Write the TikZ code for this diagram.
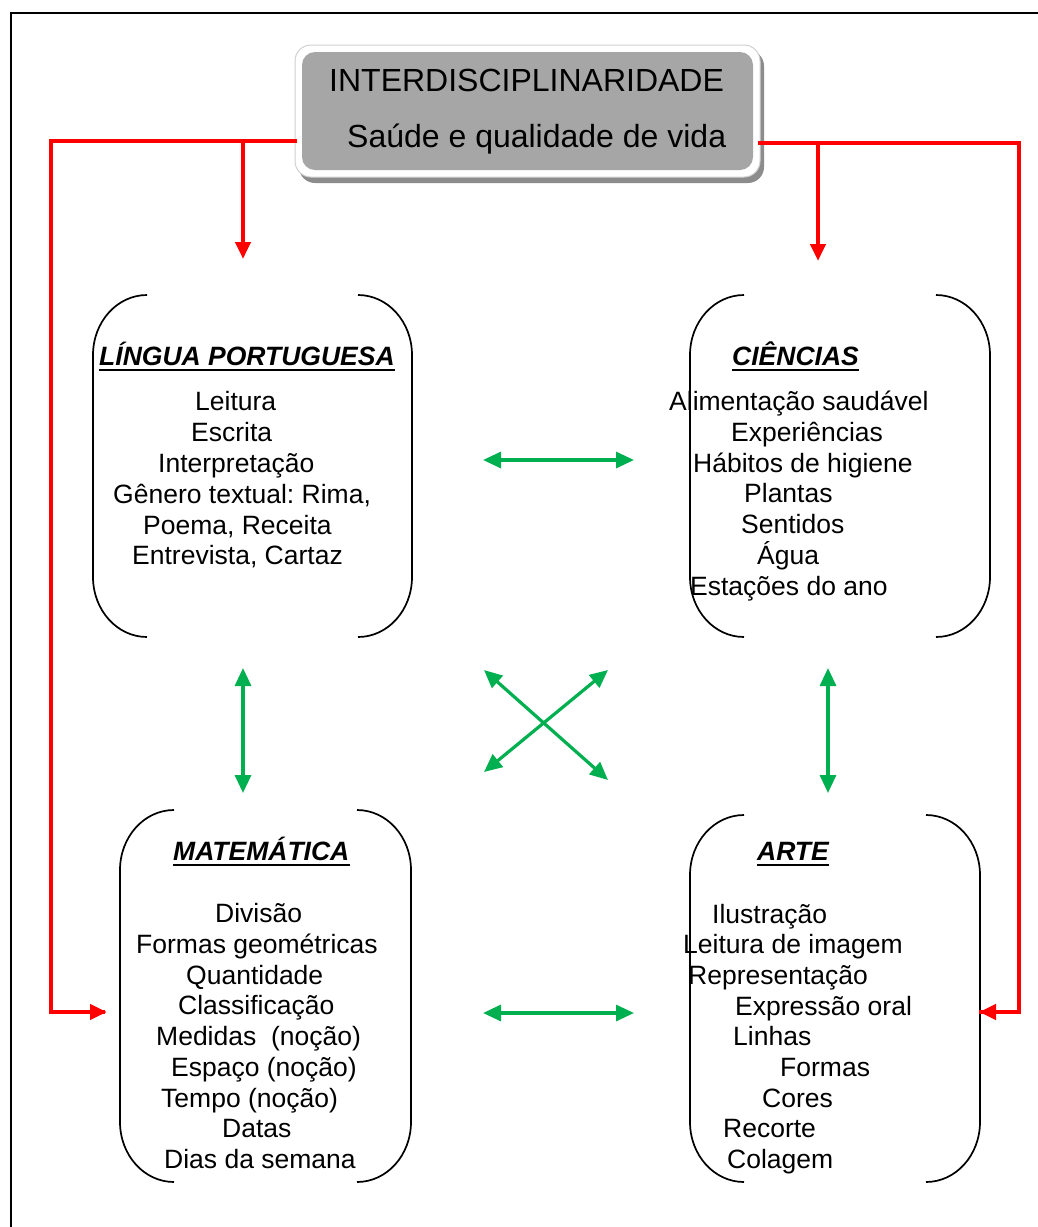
\documentclass[tikz,border=0pt]{standalone}
\usepackage{fontspec}
\setmainfont{Liberation Sans}
\usetikzlibrary{arrows.meta}
\definecolor{hdrgray}{HTML}{A6A6A6}
\definecolor{shgray}{HTML}{8C8C8C}
\definecolor{edgegray}{HTML}{D0D0D0}
\definecolor{arrowred}{HTML}{FF0000}
\definecolor{arrowgreen}{HTML}{00B050}
\tikzset{
  body/.style={anchor=base west,inner sep=0pt,font=\fontsize{26.5}{31}\selectfont},
  ttl/.style={anchor=base west,inner sep=0pt,font=\fontsize{26.5}{31}\selectfont\bfseries\itshape},
  hdrtext/.style={anchor=base west,inner sep=0pt,font=\fontsize{32}{38}\selectfont},
  redarrow/.style={draw=arrowred,line width=4.5pt,-{Triangle[length=17pt,width=15pt]}},
  redline/.style={draw=arrowred,line width=4.5pt},
  greenarrow/.style={draw=arrowgreen,line width=3.2pt,{Triangle[length=18pt,width=16pt]}-{Triangle[length=18pt,width=16pt]}},
  bracket/.style={draw=black,line width=1.7pt},
  uline/.style={draw=black,line width=2.6pt},
  boxarea/.style={draw=none,inner sep=0pt}
}
% bracket pair: #1 L, #2 R, #3 T, #4 B
\newcommand{\bracketpair}[4]{%
  \draw[bracket] ({#1+54},#3) .. controls ({#1+24},#3) and (#1,{#3+27}) .. (#1,{#3+60})
     -- (#1,{#4-60}) .. controls (#1,{#4-27}) and ({#1+24},#4) .. ({#1+54},#4);
  \draw[bracket] ({#2-54},#3) .. controls ({#2-24},#3) and (#2,{#3+27}) .. (#2,{#3+60})
     -- (#2,{#4-60}) .. controls (#2,{#4-27}) and ({#2-24},#4) .. ({#2-54},#4);
}
\begin{document}
\frenchspacing
\begin{tikzpicture}[x=1pt,y=-1pt]
\useasboundingbox (0,0) rectangle (1038,1227);
\fill[white] (0,0) rectangle (1038,1227);
% outer frame
\draw[line width=2pt,black] (11,1227) -- (11,13) -- (1038,13);

% header
\fill[shgray,rounded corners=16pt] (299,50) rectangle (764,183);
\draw[edgegray,fill=white,line width=1pt,rounded corners=16pt] (295,45) rectangle (760,177);
\node[boxarea,fill=hdrgray,rounded corners=13pt,minimum width=451pt,minimum height=118pt] (hdr) at (527.5,111) {};
\node[hdrtext] (hdr1) at (329,91) {INTERDISCIPLINARIDADE};
\node[hdrtext] (hdr2) at (347,147) {Saúde e qualidade de vida};

% boxes (areas)
\node[boxarea,minimum width=319pt,minimum height=342pt] (lp) at (252.5,466) {};
\node[boxarea,minimum width=300pt,minimum height=342pt] (ci) at (840,466) {};
\node[boxarea,minimum width=291pt,minimum height=372pt] (ma) at (265.5,996) {};
\node[boxarea,minimum width=290pt,minimum height=367pt] (ar) at (835,998.5) {};
\bracketpair{93}{412}{295}{637}
\bracketpair{690}{990}{295}{637}
\bracketpair{120}{411}{810}{1182}
\bracketpair{690}{980}{815}{1182}

% LINGUA PORTUGUESA
\node[ttl] (lpT) at (99,365) {LÍNGUA PORTUGUESA};
\draw[uline] ([yshift=-5pt]lpT.base west) -- ([yshift=-5pt]lpT.base east);
\node[body] (lp1) at (195,410) {Leitura};
\node[body] (lp2) at (191,441) {Escrita};
\node[body] (lp3) at (158,472) {Interpretação};
\node[body] (lp4) at (113,503) {Gênero textual: Rima,};
\node[body] (lp5) at (143,534) {Poema, Receita};
\node[body] (lp6) at (132,564) {Entrevista, Cartaz};

% CIENCIAS
\node[ttl] (ciT) at (732,365) {CIÊNCIAS};
\draw[uline] ([yshift=-5pt]ciT.base west) -- ([yshift=-5pt]ciT.base east);
\node[body] (ci1) at (669,410) {Alimentação saudável};
\node[body] (ci2) at (731,441) {Experiências};
\node[body] (ci3) at (693,472) {Hábitos de higiene};
\node[body] (ci4) at (744,502) {Plantas};
\node[body] (ci5) at (741,533) {Sentidos};
\node[body] (ci6) at (757,564) {Água};
\node[body] (ci7) at (690,595) {Estações do ano};

% MATEMATICA
\node[ttl] (maT) at (173,860) {MATEMÁTICA};
\draw[uline] ([yshift=-5pt]maT.base west) -- ([yshift=-5pt]maT.base east);
\node[body] (ma1) at (215,922) {Divisão};
\node[body] (ma2) at (136,953) {Formas geométricas};
\node[body] (ma3) at (186,984) {Quantidade};
\node[body] (ma4) at (178,1014) {Classificação};
\node[body] (ma5) at (156,1045) {Medidas\ \ (noção)};
\node[body] (ma6) at (171,1076) {Espaço (noção)};
\node[body] (ma7) at (161,1107) {Tempo (noção)};
\node[body] (ma8) at (222,1137) {Datas};
\node[body] (ma9) at (164,1168) {Dias da semana};

% ARTE
\node[ttl] (arT) at (757,860) {ARTE};
\draw[uline] ([yshift=-5pt]arT.base west) -- ([yshift=-5pt]arT.base east);
\node[body] (ar1) at (712,923) {Ilustração};
\node[body] (ar2) at (683,953) {Leitura de imagem};
\node[body] (ar3) at (688,984) {Representação};
\node[body] (ar4) at (735,1015) {Expressão oral};
\node[body] (ar5) at (733,1045) {Linhas};
\node[body] (ar6) at (780,1076) {Formas};
\node[body] (ar7) at (762,1107) {Cores};
\node[body] (ar8) at (723,1137) {Recorte};
\node[body] (ar9) at (727,1168) {Colagem};

% red connectors
\coordinate (hL) at (297,141);
\coordinate (cL) at (51,141);
\coordinate (bL) at (51,1012);
\coordinate (tMA) at (107,1012);
\coordinate (hR) at (758,143);
\coordinate (cR) at (1019,143);
\coordinate (bR) at (1019,1012);
\coordinate (tAR) at (979,1012);
\coordinate (jL) at (243,141);
\coordinate (tLP) at (243,259);
\coordinate (jR) at (818,143);
\coordinate (tCI) at (818,261);
\draw[redline,line join=miter] (hL) -- (cL) -- (bL) -- ([xshift=-2pt]tMA);
\draw[redarrow] (bL) -- (tMA);
\draw[redline,line join=miter] (hR) -- (cR) -- (bR) -- (tAR);
\draw[redarrow] (bR) -- (tAR);
\draw[redarrow] (jL) -- (tLP);
\draw[redarrow] (jR) -- (tCI);

% green connectors
\coordinate (g1a) at (483,460);
\coordinate (g1b) at (634,460);
\coordinate (g2a) at (243,668);
\coordinate (g2b) at (243,793);
\coordinate (g3a) at (828,668);
\coordinate (g3b) at (828,793);
\coordinate (g4a) at (484,670);
\coordinate (g4b) at (608,780);
\coordinate (g5a) at (608,670);
\coordinate (g5b) at (484,772);
\coordinate (g6a) at (483,1013);
\coordinate (g6b) at (634,1013);
\draw[greenarrow] (g1a) -- (g1b);
\draw[greenarrow] (g2a) -- (g2b);
\draw[greenarrow] (g3a) -- (g3b);
\draw[greenarrow] (g4a) -- (g4b);
\draw[greenarrow] (g5a) -- (g5b);
\draw[greenarrow] (g6a) -- (g6b);
\end{tikzpicture}
\end{document}
